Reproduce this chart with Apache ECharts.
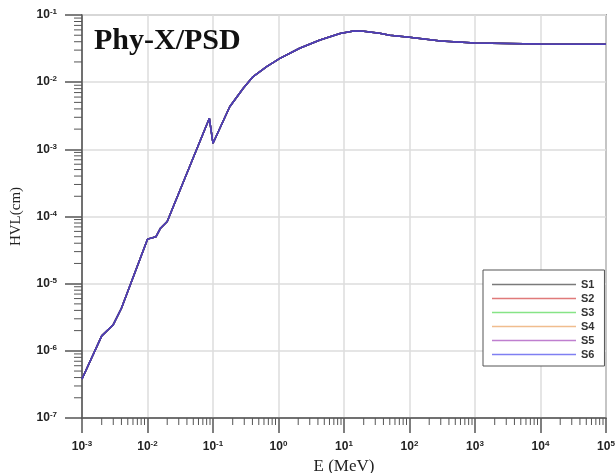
<!DOCTYPE html>
<html><head><meta charset="utf-8">
<script src="https://cdn.jsdelivr.net/npm/echarts@6/dist/echarts.min.js"></script>
<style>html,body{margin:0;padding:0;background:#fff}#c{width:616px;height:473px}</style>
</head><body><div id="c"></div>
<script>
// Photon energy (MeV)
const energy = [1e-3, 2.0e-3, 3.0e-3, 4.0e-3, 1.0e-2, 1.35e-2, 1.58e-2, 2.0e-2, 8.8e-2, 0.1,
  0.18, 0.29, 0.41, 0.66, 1.05, 2.1, 4.3, 8.7, 14, 20, 35, 50, 100, 300, 1000, 1e4, 1e5];
// HVL (cm) - the six sample curves overlap completely in the reference
const hvlS1 = [3.8e-7, 1.67e-6, 2.45e-6, 4.3e-6, 4.6e-5, 5.0e-5, 6.7e-5, 8.4e-5, 2.9e-3, 1.23e-3,
  4.3e-3, 8.1e-3, 1.21e-2, 1.7e-2, 2.26e-2, 3.2e-2, 4.25e-2, 5.3e-2, 5.78e-2, 5.75e-2, 5.35e-2, 5.0e-2, 4.65e-2, 4.1e-2, 3.83e-2, 3.7e-2, 3.68e-2];
const hvlS2 = hvlS1.slice();
const hvlS3 = hvlS1.slice();
const hvlS4 = hvlS1.slice();
const hvlS5 = hvlS1.slice();
const hvlS6 = hvlS1.slice();
const seriesNames = ['S1', 'S2', 'S3', 'S4', 'S5', 'S6'];
const seriesValues = [hvlS1, hvlS2, hvlS3, hvlS4, hvlS5, hvlS6];
const legendColors = ['#7a7a7a', '#e07a7a', '#86e486', '#f0bd8e', '#bf7fcf', '#7f7ff2'];
const lineColors = ['#4a4a4a', '#7a3b5a', '#3f6a55', '#7a5a4a', '#5a3aa0', '#4d3fb8'];
const xDecades = [-3, -2, -1, 0, 1, 2, 3, 4, 5];
const yDecades = [-7, -6, -5, -4, -3, -2, -1];

const xMinor = [], yMinor = [];
xDecades.slice(0, -1).forEach(d => { for (let k = 2; k <= 9; k++) xMinor.push(k * Math.pow(10, d)); });
yDecades.slice(0, -1).forEach(d => { for (let k = 2; k <= 9; k++) yMinor.push(k * Math.pow(10, d)); });
const xMin = Math.pow(10, xDecades[0]), xMax = Math.pow(10, xDecades[xDecades.length - 1]);
const yMin = Math.pow(10, yDecades[0]), yMax = Math.pow(10, yDecades[yDecades.length - 1]);

const axisColor = '#555';
const rich = {
  b: {fontSize: 12, fontWeight: 'bold', fontFamily: 'Liberation Sans, Arial', color: '#222', lineHeight: 14},
  e: {fontSize: 8, fontWeight: 'bold', fontFamily: 'Liberation Sans, Arial', color: '#222', verticalAlign: 'top', lineHeight: 8}
};
const fmt = v => '{b|10}{e|' + Math.round(Math.log10(v)) + '}';

const chart = echarts.init(document.getElementById('c'), null, {renderer: 'canvas'});
const series = seriesNames.map((n, i) => ({
  name: n, type: 'line', symbol: 'none', showSymbol: false,
  data: energy.map((e, j) => [e, seriesValues[i][j]]),
  lineStyle: {color: lineColors[i], width: 1.5},
  itemStyle: {color: lineColors[i]},
  z: 3 + i
}));
series.push({
  type: 'custom', silent: true, clip: false, z: 2,
  data: xMinor.map(v => [v, yMin]),
  renderItem: (p, api) => {
    const c = api.coord([api.value(0), api.value(1)]);
    return {type: 'line', shape: {x1: c[0], y1: c[1], x2: c[0], y2: c[1] + 7}, style: {stroke: axisColor, lineWidth: 1}};
  }
});
series.push({
  type: 'custom', silent: true, clip: false, z: 2,
  data: yMinor.map(v => [xMin, v]),
  renderItem: (p, api) => {
    const c = api.coord([api.value(0), api.value(1)]);
    return {type: 'line', shape: {x1: c[0] - 8, y1: c[1], x2: c[0], y2: c[1]}, style: {stroke: axisColor, lineWidth: 1}};
  }
});

chart.setOption({
  animation: false,
  backgroundColor: '#fff',
  title: {
    text: 'Phy-X/PSD', left: 94, top: 26, padding: 0,
    textStyle: {fontFamily: 'Liberation Serif, Times New Roman', fontWeight: 'bold', fontSize: 30, color: '#111'}
  },
  grid: {left: 82, right: 10, top: 15, bottom: 55, containLabel: false, outerBoundsMode: 'none',
    show: true, borderColor: axisColor, borderWidth: 1.5, backgroundColor: 'transparent'},
  legend: {
    orient: 'vertical', left: 483, top: 270,
    icon: 'rect',
    data: seriesNames.map((n, i) => ({name: n, itemStyle: {color: legendColors[i], borderWidth: 0}})),
    itemWidth: 84, itemHeight: 1.6, itemGap: 3,
    padding: [9, 10, 6, 9],
    borderColor: axisColor, borderWidth: 1, backgroundColor: '#fff',
    textStyle: {fontSize: 11, lineHeight: 11, fontWeight: 'bold', fontFamily: 'Liberation Sans, Arial', color: '#333'}
  },
  xAxis: {
    type: 'log', logBase: 10, min: xMin, max: xMax, splitNumber: 8,
    name: 'E (MeV)', nameLocation: 'middle', nameGap: 35,
    nameTextStyle: {fontFamily: 'Liberation Serif, Times New Roman', fontSize: 17, color: '#222'},
    axisLine: {show: true, lineStyle: {color: axisColor, width: 1.5}},
    axisTick: {show: true, length: 15, lineStyle: {color: axisColor, width: 1.5}},
    minorTick: {show: false},
    axisLabel: {formatter: fmt, rich: rich, margin: 22},
    splitLine: {show: true, lineStyle: {color: '#dcdcdc', width: 1.5}}
  },
  yAxis: {
    type: 'log', logBase: 10, min: yMin, max: yMax, splitNumber: 6,
    name: 'HVL(cm)', nameLocation: 'middle', nameGap: 58,
    nameTextStyle: {fontFamily: 'Liberation Serif, Times New Roman', fontSize: 15, color: '#222'},
    axisLine: {show: true, lineStyle: {color: axisColor, width: 1.5}},
    axisTick: {show: true, length: 17, lineStyle: {color: axisColor, width: 1.5}},
    minorTick: {show: false},
    axisLabel: {formatter: fmt, rich: rich, margin: 25},
    splitLine: {show: true, lineStyle: {color: '#dcdcdc', width: 1.5}}
  },
  series: series
});
</script></body></html>
